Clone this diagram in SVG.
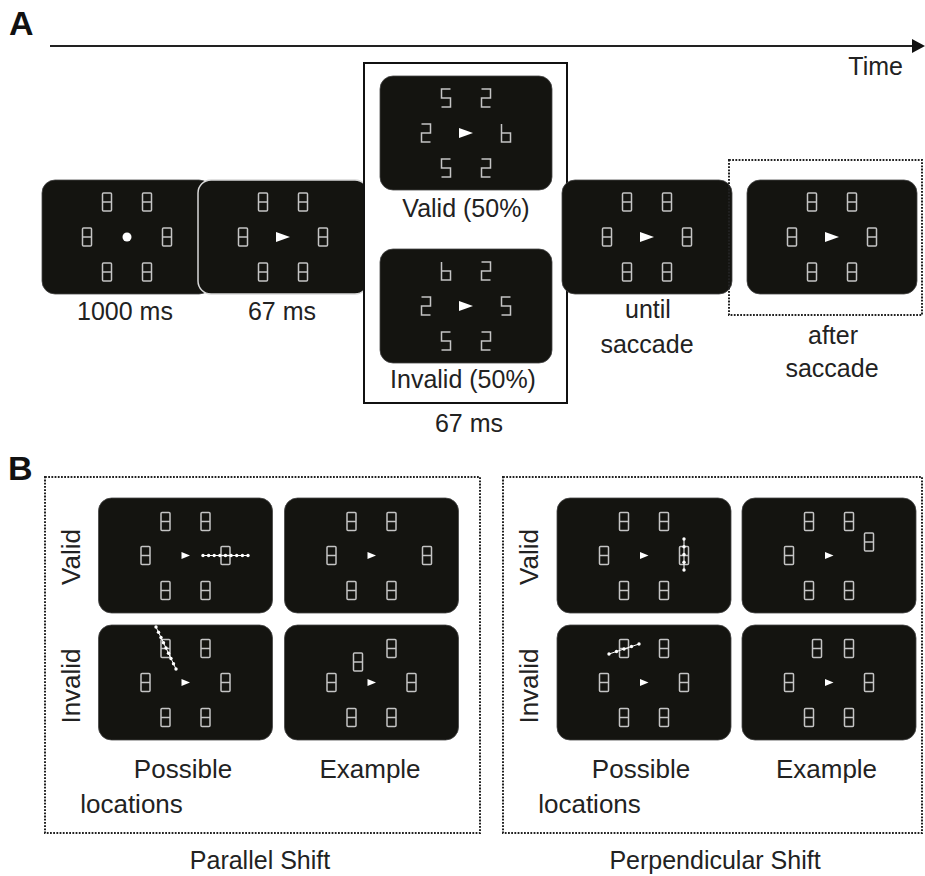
<svg xmlns="http://www.w3.org/2000/svg" xmlns:xlink="http://www.w3.org/1999/xlink" width="925" height="876" viewBox="0 0 925 876">
<style>
.scr{fill:#141410;stroke:#444;stroke-width:0.8}
.scr2{fill:#141410;stroke:#d8d8d8;stroke-width:1.5}
.dg{fill:none;stroke:#c4c4c4;stroke-width:1.5}
.cue{fill:#ffffff}
.t{font-family:"Liberation Sans",Arial,sans-serif;font-size:25px;fill:#222;text-anchor:middle}
.tb{font-size:26px}
.lab{font-family:"Liberation Sans",Arial,sans-serif;font-size:34px;font-weight:bold;fill:#111}
.dot{fill:none;stroke:#222;stroke-width:2;stroke-dasharray:1.8 1.4}
.pl{stroke:#fff;stroke-width:1;fill:none}
.pd{fill:#fff}
</style>
<defs>
<g id="d8"><rect class="dg" x="-4.5" y="-9" width="9" height="18" rx="1"/><line class="dg" x1="-4.5" y1="0" x2="4.5" y2="0"/></g>
<polyline id="d5" class="dg" points="4.5,-9 -4.5,-9 -4.5,0 4.5,0 4.5,9 -4.5,9"/>
<polyline id="d2" class="dg" points="-4.5,-9 4.5,-9 4.5,0 -4.5,0 -4.5,9 4.5,9"/>
<polyline id="d6" class="dg" points="-4.5,-9 -4.5,9 4.5,9 4.5,0 -4.5,0"/>
<polygon id="arA" class="cue" points="-7,-5 7,0 -7,5"/>
<polygon id="arB" class="cue" points="-4,-3.5 4.5,0 -4,3.5"/>
</defs>
<rect width="925" height="876" fill="#fff"/>

<text class="lab" x="9" y="35">A</text>
<text class="lab" x="8" y="480">B</text>

<g id="connectors">
<line x1="50" y1="46" x2="914" y2="46" stroke="#222" stroke-width="2"/>
<polygon points="912,39 925,46 912,53" fill="#111"/>
</g>
<text class="t" x="903" y="75" style="text-anchor:end">Time</text>

<g id="screen-fixation">
<rect class="scr" x="42" y="180" width="170" height="114" rx="13"/>
<use href="#d8" x="107" y="202"/><use href="#d8" x="147" y="202"/>
<use href="#d8" x="87" y="237"/><use href="#d8" x="167" y="237"/>
<use href="#d8" x="107" y="272"/><use href="#d8" x="147" y="272"/>
<circle cx="127" cy="237" r="4.5" fill="#fff"/>
<text class="t" x="125" y="320">1000 ms</text>
</g>

<g id="screen-cue">
<rect class="scr2" x="198" y="180" width="170" height="114" rx="13"/>
<use href="#d8" x="263" y="202"/><use href="#d8" x="303" y="202"/>
<use href="#d8" x="243" y="237"/><use href="#d8" x="323" y="237"/>
<use href="#d8" x="263" y="272"/><use href="#d8" x="303" y="272"/>
<use href="#arA" x="283" y="237"/>
<text class="t" x="282" y="320">67 ms</text>
</g>

<g id="target-box">
<rect x="364" y="63" width="203" height="340" fill="#fff" stroke="#111" stroke-width="2"/>
<text class="t" x="469" y="432">67 ms</text>
</g>

<g id="screen-valid">
<rect class="scr" x="380" y="76" width="172" height="114" rx="13"/>
<use href="#d5" x="446" y="98"/><use href="#d2" x="486" y="98"/>
<use href="#d2" x="426" y="133"/><use href="#d6" x="506" y="133"/>
<use href="#d5" x="446" y="168"/><use href="#d2" x="486" y="168"/>
<use href="#arA" x="466" y="133"/>
<text class="t" x="466" y="217">Valid (50%)</text>
</g>

<g id="screen-invalid">
<rect class="scr" x="380" y="249" width="172" height="114" rx="13"/>
<use href="#d6" x="446" y="271"/><use href="#d2" x="486" y="271"/>
<use href="#d2" x="426" y="306"/><use href="#d5" x="506" y="306"/>
<use href="#d5" x="446" y="341"/><use href="#d2" x="486" y="341"/>
<use href="#arA" x="466" y="306"/>
<text class="t" x="463" y="388">Invalid (50%)</text>
</g>

<g id="screen-until">
<rect class="scr" x="562" y="180" width="170" height="114" rx="13"/>
<use href="#d8" x="627" y="202"/><use href="#d8" x="667" y="202"/>
<use href="#d8" x="607" y="237"/><use href="#d8" x="687" y="237"/>
<use href="#d8" x="627" y="272"/><use href="#d8" x="667" y="272"/>
<use href="#arA" x="647" y="237"/>
<text class="t" x="648" y="318">until</text>
<text class="t" x="647" y="353">saccade</text>
</g>

<g id="screen-after">
<rect class="dot" x="729" y="160" width="193" height="155"/>
<rect class="scr" x="747" y="180" width="170" height="114" rx="13"/>
<use href="#d8" x="812" y="202"/><use href="#d8" x="852" y="202"/>
<use href="#d8" x="792" y="237"/><use href="#d8" x="872" y="237"/>
<use href="#d8" x="812" y="272"/><use href="#d8" x="852" y="272"/>
<use href="#arA" x="832" y="237"/>
<text class="t" x="833" y="344">after</text>
<text class="t" x="832" y="377">saccade</text>
</g>

<g id="parallel-shift">
<rect class="dot" x="45" y="477" width="435" height="356"/>
<text class="t tb" transform="translate(80,557) rotate(-90)">Valid</text>
<text class="t tb" transform="translate(80,686) rotate(-90)">Invalid</text>
<g id="par-valid-possible">
<rect class="scr" x="98.5" y="498" width="174" height="115" rx="13"/>
<use href="#d8" x="165.5" y="521.5"/><use href="#d8" x="205.5" y="521.5"/>
<use href="#d8" x="145.5" y="555.5"/><use href="#d8" x="225.5" y="555.5"/>
<use href="#d8" x="165.5" y="590.5"/><use href="#d8" x="205.5" y="590.5"/>
<use href="#arB" x="185.5" y="555.5"/>
<line class="pl" x1="203" y1="555.5" x2="248" y2="555.5"/>
<circle class="pd" cx="203" cy="555.5" r="1.7"/><circle class="pd" cx="208.6" cy="555.5" r="1.7"/><circle class="pd" cx="214.2" cy="555.5" r="1.7"/><circle class="pd" cx="219.9" cy="555.5" r="1.7"/><circle class="pd" cx="225.5" cy="555.5" r="1.7"/><circle class="pd" cx="231.1" cy="555.5" r="1.7"/><circle class="pd" cx="236.7" cy="555.5" r="1.7"/><circle class="pd" cx="242.4" cy="555.5" r="1.7"/><circle class="pd" cx="248" cy="555.5" r="1.7"/>
</g>
<g id="par-valid-example">
<rect class="scr" x="284.5" y="498" width="174" height="115" rx="13"/>
<use href="#d8" x="351.5" y="521.5"/><use href="#d8" x="391.5" y="521.5"/>
<use href="#d8" x="331.5" y="555.5"/><use href="#d8" x="427" y="555.5"/>
<use href="#d8" x="351.5" y="590.5"/><use href="#d8" x="391.5" y="590.5"/>
<use href="#arB" x="371.5" y="555.5"/>
</g>
<g id="par-invalid-possible">
<rect class="scr" x="98.5" y="625" width="174" height="115" rx="13"/>
<use href="#d8" x="165.5" y="648.5"/><use href="#d8" x="205.5" y="648.5"/>
<use href="#d8" x="145.5" y="682.5"/><use href="#d8" x="225.5" y="682.5"/>
<use href="#d8" x="165.5" y="717.5"/><use href="#d8" x="205.5" y="717.5"/>
<use href="#arB" x="185.5" y="682.5"/>
<line class="pl" x1="156" y1="627" x2="176" y2="669"/>
<circle class="pd" cx="156" cy="627" r="1.7"/><circle class="pd" cx="158.5" cy="632.25" r="1.7"/><circle class="pd" cx="161" cy="637.5" r="1.7"/><circle class="pd" cx="163.5" cy="642.75" r="1.7"/><circle class="pd" cx="166" cy="648" r="1.7"/><circle class="pd" cx="168.5" cy="653.25" r="1.7"/><circle class="pd" cx="171" cy="658.5" r="1.7"/><circle class="pd" cx="173.5" cy="663.75" r="1.7"/><circle class="pd" cx="176" cy="669" r="1.7"/>
</g>
<g id="par-invalid-example">
<rect class="scr" x="284.5" y="625" width="174" height="115" rx="13"/>
<use href="#d8" x="358" y="662"/><use href="#d8" x="391.5" y="648.5"/>
<use href="#d8" x="331.5" y="682.5"/><use href="#d8" x="411.5" y="682.5"/>
<use href="#d8" x="351.5" y="717.5"/><use href="#d8" x="391.5" y="717.5"/>
<use href="#arB" x="371.5" y="682.5"/>
</g>
<text class="t tb" x="183" y="778">Possible</text>
<text class="t tb" x="131.5" y="813">locations</text>
<text class="t tb" x="370" y="778">Example</text>
<text class="t" x="260" y="869">Parallel Shift</text>
</g>

<g id="perpendicular-shift">
<rect class="dot" x="503" y="477" width="419" height="356"/>
<text class="t tb" transform="translate(538,557) rotate(-90)">Valid</text>
<text class="t tb" transform="translate(538,686) rotate(-90)">Invalid</text>
<g id="perp-valid-possible">
<rect class="scr" x="557" y="498" width="174" height="115" rx="13"/>
<use href="#d8" x="624" y="521.5"/><use href="#d8" x="664" y="521.5"/>
<use href="#d8" x="604" y="555.5"/><use href="#d8" x="684" y="555.5"/>
<use href="#d8" x="624" y="590.5"/><use href="#d8" x="664" y="590.5"/>
<use href="#arB" x="644" y="555.5"/>
<line class="pl" x1="684" y1="539" x2="684" y2="570"/>
<circle class="pd" cx="684" cy="539" r="1.7"/><circle class="pd" cx="684" cy="546.75" r="1.7"/><circle class="pd" cx="684" cy="554.5" r="1.7"/><circle class="pd" cx="684" cy="562.25" r="1.7"/><circle class="pd" cx="684" cy="570" r="1.7"/>
</g>
<g id="perp-valid-example">
<rect class="scr" x="742" y="498" width="174" height="115" rx="13"/>
<use href="#d8" x="809" y="521.5"/><use href="#d8" x="849" y="521.5"/>
<use href="#d8" x="789" y="555.5"/><use href="#d8" x="869" y="542"/>
<use href="#d8" x="809" y="590.5"/><use href="#d8" x="849" y="590.5"/>
<use href="#arB" x="829" y="555.5"/>
</g>
<g id="perp-invalid-possible">
<rect class="scr" x="557" y="625" width="174" height="115" rx="13"/>
<use href="#d8" x="624" y="648.5"/><use href="#d8" x="664" y="648.5"/>
<use href="#d8" x="604" y="682.5"/><use href="#d8" x="684" y="682.5"/>
<use href="#d8" x="624" y="717.5"/><use href="#d8" x="664" y="717.5"/>
<use href="#arB" x="644" y="682.5"/>
<line class="pl" x1="609" y1="654" x2="639" y2="644"/>
<circle class="pd" cx="609" cy="654" r="1.7"/><circle class="pd" cx="616.5" cy="651.5" r="1.7"/><circle class="pd" cx="624" cy="649" r="1.7"/><circle class="pd" cx="631.5" cy="646.5" r="1.7"/><circle class="pd" cx="639" cy="644" r="1.7"/>
</g>
<g id="perp-invalid-example">
<rect class="scr" x="742" y="625" width="174" height="115" rx="13"/>
<use href="#d8" x="817" y="648.5"/><use href="#d8" x="849" y="648.5"/>
<use href="#d8" x="789" y="682.5"/><use href="#d8" x="869" y="682.5"/>
<use href="#d8" x="809" y="717.5"/><use href="#d8" x="849" y="717.5"/>
<use href="#arB" x="829" y="682.5"/>
</g>
<text class="t tb" x="641" y="778">Possible</text>
<text class="t tb" x="589.5" y="813">locations</text>
<text class="t tb" x="826.5" y="778">Example</text>
<text class="t" x="715" y="869">Perpendicular Shift</text>
</g>
</svg>
